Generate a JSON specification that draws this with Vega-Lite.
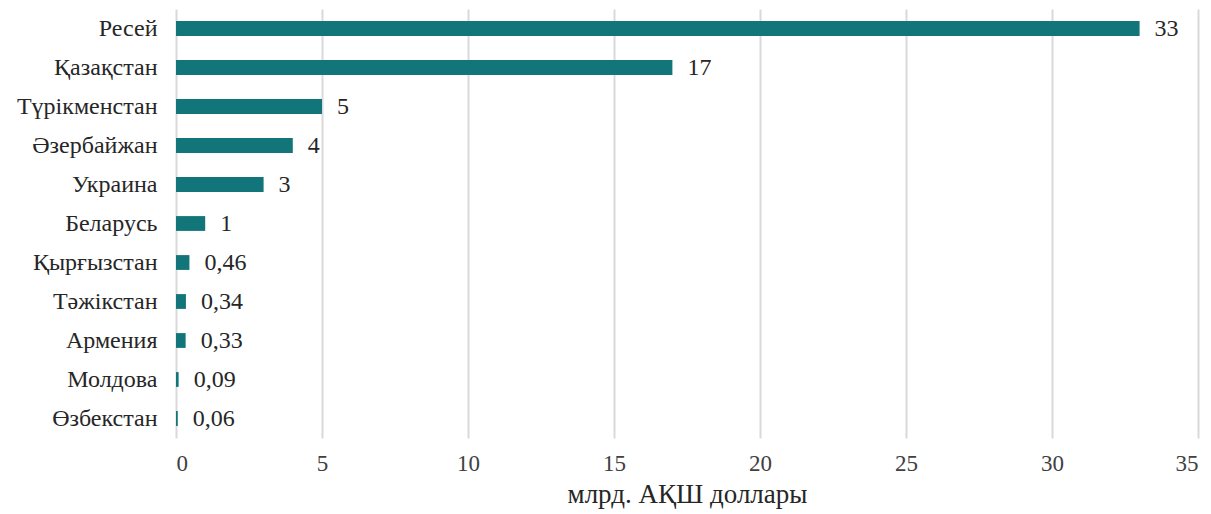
{
  "$schema": "https://vega.github.io/schema/vega-lite/v6.json",
  "width": 1022,
  "height": 429,
  "autosize": {"type": "none"},
  "padding": {"left": 176, "top": 9, "right": 13, "bottom": 76},
  "background": "white",
  "data": {
    "values": [
      {"country": "Ресей", "value": 33, "label": "33"},
      {"country": "Қазақстан", "value": 17, "label": "17"},
      {"country": "Түрікменстан", "value": 5, "label": "5"},
      {"country": "Әзербайжан", "value": 4, "label": "4"},
      {"country": "Украина", "value": 3, "label": "3"},
      {"country": "Беларусь", "value": 1, "label": "1"},
      {"country": "Қырғызстан", "value": 0.46, "label": "0,46"},
      {"country": "Тәжікстан", "value": 0.34, "label": "0,34"},
      {"country": "Армения", "value": 0.33, "label": "0,33"},
      {"country": "Молдова", "value": 0.09, "label": "0,09"},
      {"country": "Өзбекстан", "value": 0.06, "label": "0,06"}
    ]
  },
  "encoding": {
    "y": {
      "field": "country",
      "type": "nominal",
      "sort": null,
      "scale": {"paddingInner": 0.62, "paddingOuter": 0.31},
      "axis": {
        "title": null,
        "domain": false,
        "ticks": false,
        "grid": false,
        "labelPadding": 19,
        "labelFont": "Liberation Serif",
        "labelFontSize": 24,
        "labelColor": "#262626"
      }
    },
    "x": {
      "field": "value",
      "type": "quantitative",
      "scale": {"domain": [0, 35], "nice": false},
      "axis": {
        "values": [0, 5, 10, 15, 20, 25, 30, 35],
        "title": "млрд. АҚШ доллары",
        "titleFont": "Liberation Serif",
        "titleFontSize": 27,
        "titleFontWeight": "normal",
        "titleColor": "#262626",
        "titlePadding": 6,
        "domain": false,
        "ticks": false,
        "grid": true,
        "gridColor": "#d9d9d9",
        "gridWidth": 2,
        "labelPadding": 14,
        "labelFont": "Liberation Serif",
        "labelFontSize": 23,
        "labelColor": "#404040"
      }
    }
  },
  "layer": [
    {"mark": {"type": "bar", "color": "#127579"}},
    {
      "mark": {
        "type": "text",
        "align": "left",
        "baseline": "middle",
        "dx": 15,
        "font": "Liberation Serif",
        "fontSize": 24,
        "color": "#262626"
      },
      "encoding": {"text": {"field": "label"}}
    }
  ],
  "config": {"view": {"stroke": null}, "font": "Liberation Serif"}
}
